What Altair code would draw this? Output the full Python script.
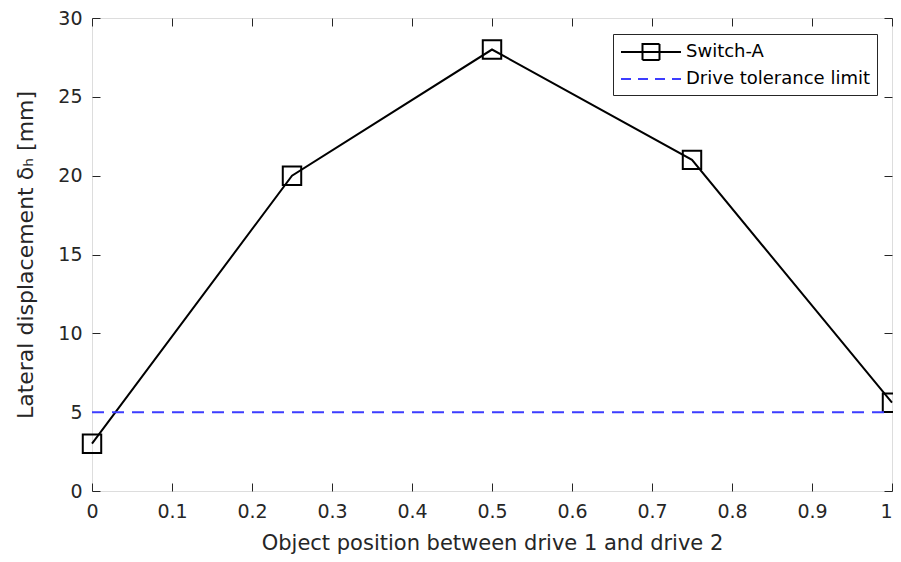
import altair as alt
import pandas as pd

# ---- data ----
positions = [0.0, 0.25, 0.5, 0.75, 1.0]
displacement = [3.0, 20.0, 28.0, 21.0, 5.6]
limit_value = 5.0
x_ticks = [0, 0.1, 0.2, 0.3, 0.4, 0.5, 0.6, 0.7, 0.8, 0.9, 1]
y_ticks = [0, 5, 10, 15, 20, 25, 30]
series_names = ["Switch-A", "Drive tolerance limit"]

FONT = "DejaVu Sans"
AX = "#262626"
BLUE = "#3d3dff"

df = pd.DataFrame({"x": positions, "y": displacement})
lim = pd.DataFrame({"x": [positions[0]], "x2": [positions[-1]], "y": [limit_value]})
leg = pd.DataFrame({"series": series_names})

xscale = alt.Scale(domain=[0, 1], nice=False, zero=False)
yscale = alt.Scale(domain=[0, 30], nice=False)

common = dict(labelFont=FONT, titleFont=FONT, labelColor=AX, titleColor=AX,
              tickColor=AX, domain=False, grid=False)

x_label_axis = alt.Axis(orient="bottom", values=x_ticks, ticks=False, tickSize=0,
                        format="~g",
                        labelAlign={"condition": {"test": "datum.value >= 1", "value": "right"},
                                    "value": "center"},
                        labelPadding=11, labelFontSize=19, labelFlush=False,
                        title="Object position between drive 1 and drive 2",
                        titleFontSize=21, titleFontWeight="normal", titlePadding=11,
                        **common)
y_label_axis = alt.Axis(orient="left", values=y_ticks, ticks=False, tickSize=0,
                        labelPadding=10, labelFontSize=19,
                        title="Lateral displacement δₕ [mm]",
                        titleFontSize=22, titleFontWeight="normal", titlePadding=20, **common)


def tick_axis(orient, vals):
    return alt.Axis(orient=orient, values=vals, ticks=True, tickSize=8, tickWidth=1,
                    offset=-8, labels=False, title=None, **common)


line = alt.Chart(df).mark_line(color="black", strokeWidth=2).encode(
    x=alt.X("x:Q", scale=xscale, axis=x_label_axis),
    y=alt.Y("y:Q", scale=yscale, axis=y_label_axis),
)

points = alt.Chart(df).mark_point(shape="square", size=340, filled=False,
                                  color="black", strokeWidth=2, opacity=1).encode(
    x=alt.X("x:Q", scale=xscale, axis=tick_axis("bottom", x_ticks)),
    y=alt.Y("y:Q", scale=yscale, axis=tick_axis("left", y_ticks)),
)

limit_rule = alt.Chart(lim).mark_rule(color=BLUE, strokeWidth=2, strokeDash=[12, 8]).encode(
    x=alt.X("x:Q", scale=xscale, axis=tick_axis("top", x_ticks)),
    x2="x2:Q",
    y=alt.Y("y:Q", scale=yscale, axis=tick_axis("right", y_ticks)),
)

path_a = "M-1,0H5M1.15,-0.8H2.85V0.8H1.15Z"
path_b = "M-1,0H5"

legend_layer = alt.Chart(leg).mark_point(opacity=0, filled=False, strokeWidth=2).encode(
    shape=alt.Shape("series:N", scale=alt.Scale(domain=series_names, range=[path_a, path_b]),
                    legend=alt.Legend(title=None, orient="none", legendX=521, legendY=16,
                                      fillColor="white", strokeColor=AX, padding=7,
                                      labelFont=FONT, labelFontSize=18, labelColor="black",
                                      labelLimit=400,
                                      symbolSize=400, symbolStrokeWidth=2, symbolOpacity=1,
                                      symbolFillColor="transparent",
                                      labelOffset=44, rowPadding=4)),
    color=alt.Color("series:N", scale=alt.Scale(domain=series_names, range=["black", BLUE])),
    strokeDash=alt.StrokeDash("series:N", scale=alt.Scale(domain=series_names,
                                                          range=[[1, 0], [10, 7]])),
)

chart = alt.layer(line, points, limit_rule, legend_layer).resolve_axis(
    x="independent", y="independent"
).properties(
    width=800, height=473,
    autosize=alt.AutoSizeParams(type="none"),
    padding={"left": 84, "top": 10, "right": 1, "bottom": 63},
).configure_view(stroke=AX, strokeWidth=1).configure(background="white")

chart.save("out.html", embed_options={"renderer": "svg", "actions": False})
